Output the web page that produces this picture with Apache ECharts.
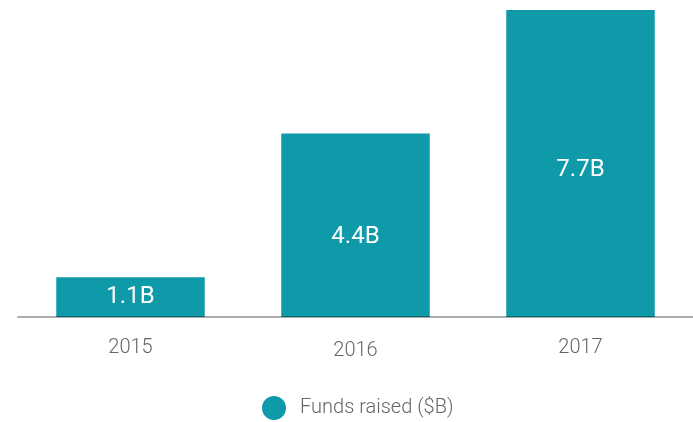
<!DOCTYPE html>
<html>
<head>
<meta charset="utf-8">
<script src="https://cdn.jsdelivr.net/npm/echarts@6/dist/echarts.min.js"></script>
<style>
html,body{margin:0;padding:0;background:#fff;}
#chart{width:693px;height:422px;}
</style>
</head>
<body>
<div id="chart"></div>
<script>
const categories = ['2015', '2016', '2017'];
const fundsRaised = [1.0, 4.6, 7.7];
const valueLabels = ['1.1B', '4.4B', '7.7B'];
const seriesName = 'Funds raised ($B)';

const labelShift = [0, 12, 6];
const catShift = [0, 3, 0];

const chart = echarts.init(document.getElementById('chart'), null, {renderer: 'canvas'});
chart.setOption({
  animation: false,
  backgroundColor: '#ffffff',
  textStyle: {fontFamily: 'Roboto'},
  grid: {left: 18, right: 0, top: 10, bottom: 105, containLabel: false},
  legend: {
    left: 257, top: 391,
    icon: 'circle', itemWidth: 24, itemHeight: 24,
    data: [seriesName],
    textStyle: {fontFamily: 'Roboto', fontSize: 20, fontWeight: 300, color: '#666666', padding: [0, 0, 0, 9]}
  },
  xAxis: {
    type: 'category',
    data: categories.map((c, i) => ({value: c, textStyle: {padding: [catShift[i], 0, 0, 0]}})),
    z: 3,
    axisLine: {show: true, lineStyle: {color: 'rgba(0,0,0,0.33)', width: 2}},
    axisTick: {show: false},
    axisLabel: {fontFamily: 'Roboto', fontSize: 20, fontWeight: 300, color: '#666666', margin: 21}
  },
  yAxis: {type: 'value', min: 0, max: 7.7, show: false, splitLine: {show: false}},
  series: [{
    name: seriesName,
    type: 'bar',
    data: fundsRaised.map((v, i) => ({value: v, label: {offset: [0, labelShift[i]]}})),
    barCategoryGap: '34%',
    itemStyle: {color: '#0e9aa9'},
    label: {
      show: true, position: 'inside',
      fontFamily: 'Roboto', fontSize: 24, fontWeight: 400, color: '#ffffff',
      formatter: p => valueLabels[p.dataIndex]
    }
  }]
});
</script>
</body>
</html>
